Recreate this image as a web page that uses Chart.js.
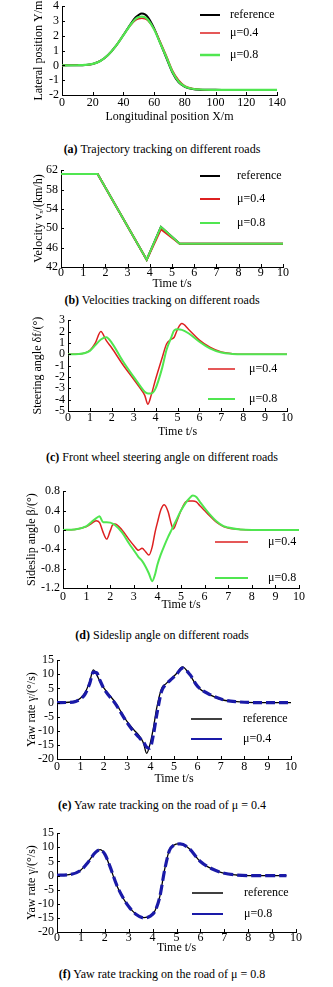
<!DOCTYPE html>
<html><head><meta charset="utf-8">
<script src="https://cdn.jsdelivr.net/npm/chart.js@4.4.1/dist/chart.umd.min.js"></script>
<style>
body{margin:0;background:#fff;width:333px;height:987px;position:relative;overflow:hidden;font-family:'Liberation Serif','Times New Roman',serif}
canvas{position:absolute;left:0}
.cap{position:absolute;left:0;width:324px;text-align:center;font-size:12px;line-height:14px;color:#000;white-space:nowrap}
</style></head><body>
<canvas id="ca"></canvas><canvas id="cb"></canvas><canvas id="cc"></canvas>
<canvas id="cd"></canvas><canvas id="ce"></canvas><canvas id="cf"></canvas>
<div class="cap" style="top:142px"><b>(a)</b> Trajectory tracking on different roads</div>
<div class="cap" style="top:293px"><b>(b)</b> Velocities tracking on different roads</div>
<div class="cap" style="top:450px"><b>(c)</b> Front wheel steering angle on different roads</div>
<div class="cap" style="top:628px"><b>(d)</b> Sideslip angle on different roads</div>
<div class="cap" style="top:798px"><b>(e)</b> Yaw rate tracking on the road of μ = 0.4</div>
<div class="cap" style="top:967px"><b>(f)</b> Yaw rate tracking on the road of μ = 0.8</div>
<script>
// ---------- (a) trajectory ----------
const aX = [0,10,15,20,25,30,35,40,45,48,50,52,54,56,60,64,68,72,76,80,85,90,100,110,120,130,140];
const aRef = [0,0.01,0.03,0.1,0.3,0.7,1.3,2.05,2.85,3.25,3.42,3.5,3.45,3.25,2.5,1.5,0.5,-0.5,-1.15,-1.45,-1.6,-1.64,-1.65,-1.66,-1.66,-1.66,-1.66];
const aMu04 = [0,0.01,0.03,0.1,0.3,0.7,1.3,2.05,2.75,3.05,3.15,3.18,3.15,3.02,2.45,1.6,0.65,-0.35,-1.0,-1.38,-1.56,-1.62,-1.65,-1.66,-1.66,-1.66,-1.66];
const aMu08 = [0,0.01,0.03,0.1,0.3,0.7,1.3,2.05,2.8,3.15,3.27,3.3,3.25,3.08,2.42,1.5,0.55,-0.45,-1.1,-1.42,-1.58,-1.63,-1.65,-1.66,-1.66,-1.66,-1.66];
const aXTicks = [0,20,40,60,80,100,120,140];
const aYTicks = [-2,-1,0,1,2,3,4];
// ---------- (b) velocity ----------
const bT = [0,1.65,3.86,4.5,5.35,10];
const bRef = [61.2,61.2,43.5,50.3,46.8,46.8];
const bMu04 = [61.2,61.2,43.5,49.8,46.8,46.8];
const bMu08 = [61.2,61.2,43.5,50.3,46.8,46.8];
const bYTicks = [42,46,50,54,58,62];
// ---------- (c) steering angle ----------
const cT = [0,0.5,1.0,1.25,1.5,1.75,2.0,2.5,3.0,3.3,3.5,3.65,3.8,4.0,4.3,4.5,4.7,4.85,5.0,5.2,5.5,6.0,6.5,7.0,7.5,8,9,10];
const cMu04 = [0,0.02,0.35,1.0,2.0,1.2,0.55,-0.9,-2.2,-3.0,-3.6,-4.4,-3.6,-2.2,-0.3,0.9,1.3,1.5,2.2,2.7,2.2,1.25,0.6,0.2,0.05,0,0,0];
const cMu08 = [0,0.02,0.3,0.8,1.3,1.5,1.0,-0.6,-2.0,-2.8,-3.3,-3.45,-3.45,-3.0,-1.2,0.4,1.4,2.1,2.2,2.15,1.85,1.1,0.5,0.15,0.03,0,0,0];
const cYTicks = [-5,-4,-3,-2,-1,0,1,2,3];
// ---------- (d) sideslip angle ----------
const dT = [0,0.5,1.0,1.2,1.4,1.55,1.7,1.85,2.0,2.1,2.2,2.5,2.8,3.0,3.2,3.35,3.5,3.64,3.78,3.9,4.0,4.15,4.29,4.45,4.6,4.68,4.8,5.0,5.2,5.35,5.5,5.65,5.8,6.0,6.2,6.5,6.8,7.0,7.5,8,9,10];
const dMu04 = [0,0.01,0.07,0.13,0.19,0.15,-0.05,-0.19,-0.02,0.1,0.12,0.0,-0.2,-0.32,-0.42,-0.38,-0.45,-0.52,-0.35,-0.05,0.15,0.42,0.52,0.38,0.1,0.02,0.15,0.4,0.58,0.6,0.6,0.58,0.5,0.4,0.3,0.16,0.07,0.04,0.01,0,0,0];
const dMu08 = [0,0.01,0.08,0.16,0.24,0.28,0.16,0.16,0.15,0.13,0.1,-0.05,-0.28,-0.42,-0.56,-0.64,-0.76,-0.9,-1.06,-0.92,-0.72,-0.5,-0.33,-0.15,0.0,0.08,0.2,0.4,0.56,0.65,0.71,0.68,0.58,0.45,0.33,0.18,0.08,0.05,0.01,0,0,0];
const dYTicks = [-1.2,-0.8,-0.4,0,0.4,0.8];
// ---------- (e) yaw rate, mu = 0.4 ----------
const eT = [0,0.5,0.8,1.0,1.2,1.4,1.55,1.7,1.84,2.0,2.5,3.0,3.3,3.5,3.6,3.7,3.83,3.97,4.12,4.26,4.47,4.65,4.83,5.11,5.36,5.68,6.0,6.54,7.1,7.68,8.5,10];
const eRef = [0,0.1,0.6,1.5,3.5,7.5,11.6,9.8,7.4,5.2,-0.1,-6.8,-9.8,-11.6,-12.8,-14.5,-18.0,-14.9,-9.0,-2.0,5.0,6.6,8.0,10.3,12.6,9.7,5.6,2.7,0.9,0.3,0,0];
const eMu04 = [0,0.05,0.4,1.2,3.0,6.8,10.8,10.5,7.8,5.0,-0.5,-7.2,-10.5,-12.3,-13.2,-14.0,-15.8,-16.2,-11.4,-4.5,4.0,6.4,7.8,10.0,12.2,9.9,5.8,2.8,1.0,0.3,0,0];
// ---------- (f) yaw rate, mu = 0.8 ----------
const fT = [0,0.5,1.0,1.3,1.6,1.8,2.0,2.2,2.5,2.8,3.0,3.3,3.64,3.9,4.1,4.3,4.5,4.7,4.85,5.15,5.5,6.0,6.5,7.0,7.5,8,9,9.6];
const fRef = [0,0.3,2.0,4.8,8.2,9.2,7.6,3.5,-3.5,-8.5,-11.0,-13.6,-14.9,-14.3,-12.5,-7.5,2.0,9.0,10.6,11.3,9.8,4.9,2.3,0.8,0.2,0,0,0];
const fMu08 = [0.1,0.3,1.9,4.7,8.1,9.1,7.6,3.6,-3.4,-8.4,-11.0,-13.7,-15.0,-14.4,-12.6,-7.6,1.8,8.8,10.5,11.2,9.8,5.0,2.3,0.8,0.2,0,0,0];
const tTicks = [0,1,2,3,4,5,6,7,8,9,10];
const yawTicks = [-20,-15,-10,-5,0,5,10,15];

const BLACK = '#000000', RED = '#dd2020', GREEN = '#50e650', BLUE = '#1a1aa8';
const FONT = {family:"'Liberation Serif','Times New Roman',serif", size:12};

const pts = (xs, ys) => xs.map((x, i) => ({x, y: ys[i]}));

const inTicks = {
  id:'inTicks',
  afterDraw(c){
    const {ctx, chartArea:a, scales:{x, y}} = c;
    ctx.save(); ctx.strokeStyle='#000'; ctx.lineWidth=1; ctx.setLineDash([]);
    ctx.beginPath();
    x.ticks.forEach(t => { const p = Math.round(x.getPixelForValue(t.value)) + 0.5; ctx.moveTo(p, a.bottom); ctx.lineTo(p, a.bottom - 3); });
    y.ticks.forEach(t => { const p = Math.round(y.getPixelForValue(t.value)) + 0.5; ctx.moveTo(a.left, p); ctx.lineTo(a.left + 3, p); });
    ctx.stroke(); ctx.restore();
  }
};
const inLegend = {
  id:'inLegend',
  afterDraw(c, args, o){
    if (!o || !o.rows) return;
    const ctx = c.ctx;
    ctx.save();
    ctx.font = FONT.size + 'px ' + FONT.family;
    ctx.textBaseline = 'middle'; ctx.textAlign = 'left'; ctx.fillStyle = '#000';
    o.rows.forEach(r => {
      const ds = c.data.datasets[r.ds];
      const y = r.y - o.top0;
      ctx.strokeStyle = ds.borderColor; ctx.lineWidth = r.w; ctx.setLineDash([]);
      ctx.beginPath(); ctx.moveTo(o.x1, y); ctx.lineTo(o.x2, y); ctx.stroke();
      ctx.fillText(ds.label, o.tx, y);
    });
    ctx.restore();
  }
};

function panel(p){
  const top0 = p.T - 10;
  const xH = Math.ceil(p.xTitleY - p.B + 7.2 + 1);
  const padB = xH - (p.xTitleY - p.B) - 7.2;
  const h = 10 + (p.B - p.T) + xH;
  const cv = document.getElementById(p.id);
  cv.width = 333; cv.height = h;
  cv.style.width = '333px'; cv.style.height = h + 'px'; cv.style.top = top0 + 'px';
  p.legend.top0 = top0;
  new Chart(cv, {
    type:'line',
    data:{datasets:p.datasets},
    plugins:[inTicks, inLegend],
    options:{
      responsive:false, animation:false, devicePixelRatio:1,
      layout:{padding:{top:10, left:0, right:333 - p.R, bottom:0}},
      elements:{point:{radius:0}, line:{borderCapStyle:'butt'}},
      plugins:{legend:{display:false}, tooltip:{enabled:false}, inLegend:p.legend},
      scales:{
        x:{type:'linear', min:p.xMin, max:p.xMax,
           afterFit(s){ s.height = xH; },
           afterBuildTicks(s){ s.ticks = p.xTicks.map(v => ({value:v})); },
           grid:{display:false, drawTicks:false, tickLength:0}, border:{display:true, color:'#000', width:1},
           ticks:{color:'#000', font:FONT, padding:p.xPad, maxRotation:0, autoSkip:false, callback:v => String(v)},
           title:{display:true, text:p.xTitle, color:'#000', font:FONT, padding:{top:0, bottom:padB}}},
        y:{type:'linear', min:p.yMin, max:p.yMax,
           afterFit(s){ s.width = p.L; },
           afterBuildTicks(s){ s.ticks = p.yTicks.map(v => ({value:v})); },
           grid:{display:false, drawTicks:false, tickLength:0}, border:{display:true, color:'#000', width:1},
           ticks:{color:'#000', font:FONT, padding:3, autoSkip:false, callback:v => String(v)},
           title:{display:true, text:p.yTitle, color:'#000', font:FONT, padding:{top:p.yTitleX - 7.2, bottom:0}}}
      }
    }
  });
}

const smooth = {cubicInterpolationMode:'monotone', fill:false};

panel({id:'ca', L:62, R:277, T:6, B:95, xTitleY:117, xPad:0.5, yTitleX:39,
  xMin:0, xMax:140, yMin:-2, yMax:4, xTicks:aXTicks, yTicks:aYTicks,
  xTitle:'Longitudinal position X/m', yTitle:'Lateral position Y/m',
  datasets:[
    {label:'reference', data:pts(aX,aRef), borderColor:BLACK, borderWidth:2, order:2, ...smooth},
    {label:'μ=0.4', data:pts(aX,aMu04), borderColor:RED, borderWidth:1.5, order:1, ...smooth},
    {label:'μ=0.8', data:pts(aX,aMu08), borderColor:GREEN, borderWidth:2.2, order:0, ...smooth}],
  legend:{x1:200, x2:220, tx:230, rows:[{ds:0,y:15,w:2},{ds:1,y:33,w:1.5},{ds:2,y:55,w:2.5}]}});

panel({id:'cb', L:61, R:283, T:170, B:267, xTitleY:284, xPad:-1.5, yTitleX:39,
  xMin:0, xMax:10, yMin:42, yMax:62, xTicks:tTicks, yTicks:bYTicks,
  xTitle:'Time t/s', yTitle:'Velocity vₓ/(km/h)',
  datasets:[
    {label:'reference', data:pts(bT,bRef), borderColor:BLACK, borderWidth:2, order:2, tension:0, fill:false},
    {label:'μ=0.4', data:pts(bT,bMu04), borderColor:RED, borderWidth:2, order:1, tension:0, fill:false},
    {label:'μ=0.8', data:pts(bT,bMu08), borderColor:GREEN, borderWidth:2, order:0, tension:0, fill:false}],
  legend:{x1:200, x2:220, tx:237, rows:[{ds:0,y:176,w:2},{ds:1,y:199,w:2},{ds:2,y:223,w:2}]}});

panel({id:'cc', L:68, R:287, T:320, B:411, xTitleY:432, xPad:0, yTitleX:38,
  xMin:0, xMax:10, yMin:-5, yMax:3, xTicks:tTicks, yTicks:cYTicks,
  xTitle:'Time t/s', yTitle:'Steering angle δf/(°)',
  datasets:[
    {label:'μ=0.4', data:pts(cT,cMu04), borderColor:RED, borderWidth:1.5, order:1, ...smooth},
    {label:'μ=0.8', data:pts(cT,cMu08), borderColor:GREEN, borderWidth:2, order:0, ...smooth}],
  legend:{x1:208, x2:235, tx:249, rows:[{ds:0,y:369,w:1.5},{ds:1,y:399,w:2}]}});

panel({id:'cd', L:63, R:299, T:491, B:588, xTitleY:605, xPad:1.5, yTitleX:32,
  xMin:0, xMax:10, yMin:-1.2, yMax:0.8, xTicks:tTicks, yTicks:dYTicks,
  xTitle:'Time t/s', yTitle:'Sideslip angle β/(°)',
  datasets:[
    {label:'μ=0.4', data:pts(dT,dMu04), borderColor:RED, borderWidth:1.5, order:1, ...smooth},
    {label:'μ=0.8', data:pts(dT,dMu08), borderColor:GREEN, borderWidth:2, order:0, ...smooth}],
  legend:{x1:215, x2:248, tx:268, rows:[{ds:0,y:542,w:1.5},{ds:1,y:578,w:2}]}});

panel({id:'ce', L:57, R:291, T:660, B:759, xTitleY:779, xPad:0.8, yTitleX:32,
  xMin:0, xMax:10, yMin:-20, yMax:15, xTicks:tTicks, yTicks:yawTicks,
  xTitle:'Time t/s', yTitle:'Yaw rate γ/(°/s)',
  datasets:[
    {label:'reference', data:pts(eT,eRef), borderColor:BLACK, borderWidth:1.3, order:1, ...smooth},
    {label:'μ=0.4', data:pts(eT,eMu04), borderColor:BLUE, borderWidth:3.2, borderDash:[9,4], order:0, ...smooth}],
  legend:{x1:191, x2:222, tx:243, rows:[{ds:0,y:719,w:1.5},{ds:1,y:739,w:2}]}});

panel({id:'cf', L:57, R:296, T:833, B:932, xTitleY:948, xPad:-1.2, yTitleX:32,
  xMin:0, xMax:10, yMin:-20, yMax:15, xTicks:tTicks, yTicks:yawTicks,
  xTitle:'Time t/s', yTitle:'Yaw rate γ/(°/s)',
  datasets:[
    {label:'reference', data:pts(fT,fRef), borderColor:BLACK, borderWidth:1.3, order:1, ...smooth},
    {label:'μ=0.8', data:pts(fT,fMu08), borderColor:BLUE, borderWidth:3.2, borderDash:[10,4], order:0, ...smooth}],
  legend:{x1:192, x2:223, tx:244, rows:[{ds:0,y:893,w:1.5},{ds:1,y:914,w:2}]}});
</script>
</body></html>
